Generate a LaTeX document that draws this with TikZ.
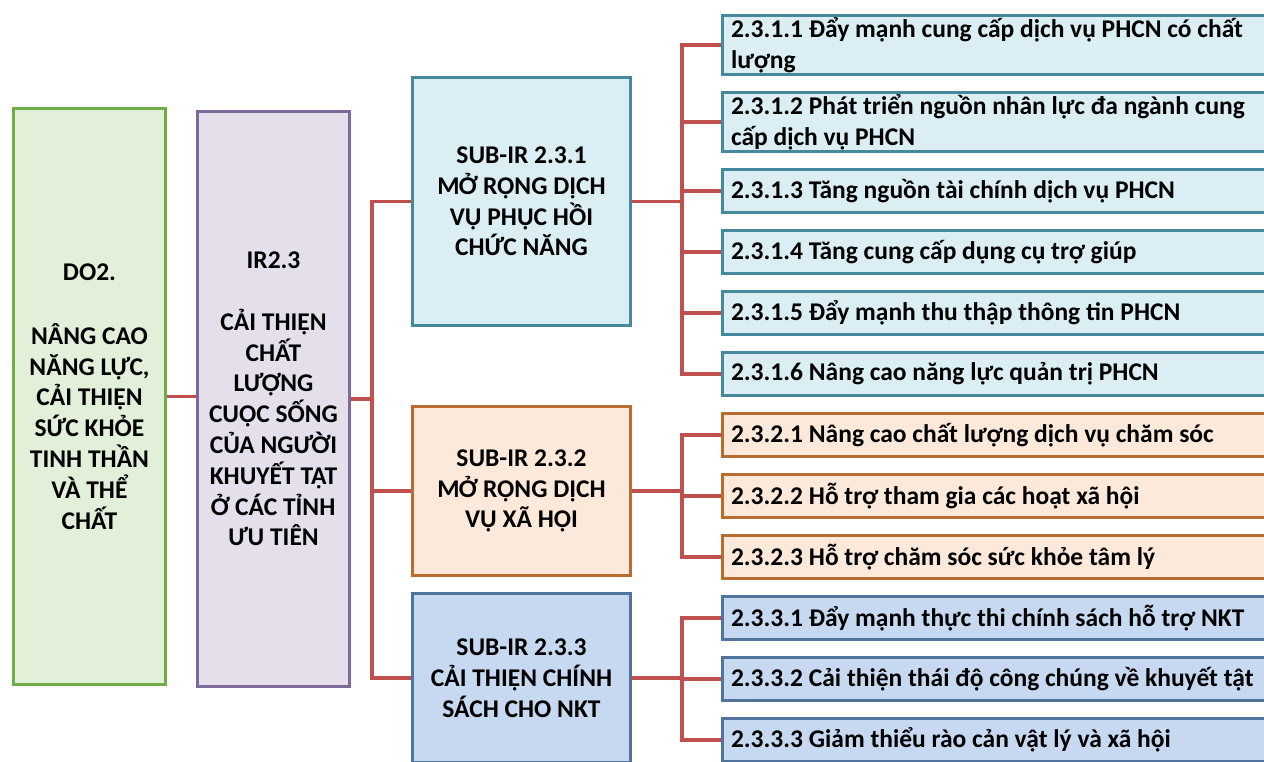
\documentclass[tikz,border=0pt]{standalone}
\usepackage{fontspec}
\setmainfont{Carlito}
\usepackage{tikz}
\usetikzlibrary{positioning}
\definecolor{xanhla}{HTML}{72AC48}
\definecolor{xanhlanen}{HTML}{E2EFD9}
\definecolor{tim}{HTML}{7D6A9C}
\definecolor{timnen}{HTML}{E5DFEC}
\definecolor{lam}{HTML}{46889C}
\definecolor{lamnen}{HTML}{DAEEF3}
\definecolor{cam}{HTML}{B86C30}
\definecolor{camnen}{HTML}{FDE9D9}
\definecolor{duong}{HTML}{50749E}
\definecolor{duongnen}{HTML}{C6D9F1}
\definecolor{do}{HTML}{C0504D}

\begin{document}
\begin{tikzpicture}[
  x=1pt, y=-1pt,
  node distance=15pt,
  khoi/.style={draw, line width=3pt, align=center, inner sep=0pt, font=\bfseries\fontsize{25.5}{30.8}\selectfont},
  muc/.style={khoi, align=flush left, text width=540pt, inner xsep=8.5pt, minimum height=43pt, font=\bfseries\fontsize{25.5}{31}\selectfont},
  muc1/.style={muc, draw=lam, fill=lamnen},
  muc2/.style={muc, draw=cam, fill=camnen},
  muc3/.style={muc, draw=duong, fill=duongnen},
  noi/.style={line width=3.5pt, do}
]
\useasboundingbox (0,0) rectangle (1264,761);

% cot trai
\node[khoi, draw=xanhla, fill=xanhlanen, minimum width=152pt, minimum height=576pt] (do2) at (89.5,396.5)
  {DO2.\\[33pt]NÂNG CAO\\NĂNG LỰC,\\CẢI THIỆN\\SỨC KHỎE\\TINH THẦN\\VÀ THỂ\\CHẤT};
\node[khoi, draw=tim, fill=timnen, minimum width=152pt, minimum height=575pt] (ir) at (273.5,399)
  {IR2.3\\[31pt]CẢI THIỆN\\CHẤT\\LƯỢNG\\CUỘC SỐNG\\CỦA NGƯỜI\\KHUYẾT TẬT\\Ở CÁC TỈNH\\ƯU TIÊN};

% sub-IR
\node[khoi, draw=lam, fill=lamnen, minimum width=218pt, minimum height=248pt] (s1) at (521.5,201.5)
  {SUB-IR 2.3.1\\MỞ RỘNG DỊCH\\VỤ PHỤC HỒI\\CHỨC NĂNG};
\node[khoi, draw=cam, fill=camnen, minimum width=218pt, minimum height=169pt] (s2) at (521.5,491)
  {SUB-IR 2.3.2\\MỞ RỘNG DỊCH\\VỤ XÃ HỘI};
\node[khoi, draw=duong, fill=duongnen, minimum width=218pt, minimum height=169pt] (s3) at (521.5,678)
  {SUB-IR 2.3.3\\CẢI THIỆN CHÍNH\\SÁCH CHO NKT};

% cot phai
\node[muc1, minimum height=59pt, anchor=west] (c11) at (721,45) {2.3.1.1 Đẩy mạnh cung cấp dịch vụ PHCN có chất\\lượng};
\node[muc1, minimum height=59pt, below=of c11] (c12) {2.3.1.2 Phát triển nguồn nhân lực đa ngành cung\\cấp dịch vụ PHCN};
\node[muc1, below=of c12] (c13) {2.3.1.3 Tăng nguồn tài chính dịch vụ PHCN};
\node[muc1, below=of c13] (c14) {2.3.1.4 Tăng cung cấp dụng cụ trợ giúp};
\node[muc1, below=of c14] (c15) {2.3.1.5 Đẩy mạnh thu thập thông tin PHCN};
\node[muc1, below=of c15] (c16) {2.3.1.6 Nâng cao năng lực quản trị PHCN};
\node[muc2, below=of c16] (c21) {2.3.2.1 Nâng cao chất lượng dịch vụ chăm sóc};
\node[muc2, below=of c21] (c22) {2.3.2.2 Hỗ trợ tham gia các hoạt xã hội};
\node[muc2, below=of c22] (c23) {2.3.2.3 Hỗ trợ chăm sóc sức khỏe tâm lý};
\node[muc3, below=of c23] (c31) {2.3.3.1 Đẩy mạnh thực thi chính sách hỗ trợ NKT};
\node[muc3, below=of c31] (c32) {2.3.3.2 Cải thiện thái độ công chúng về khuyết tật};
\node[muc3, below=of c32] (c33) {2.3.3.3 Giảm thiểu rào cản vật lý và xã hội};

% duong noi
\draw[noi] (do2.east) -- (do2.east -| ir.west);
\foreach \s in {1,2,3}
  \draw[noi] (ir.east) -- ++(21,0) |- (s\s.west);
\foreach \s/\k in {1/6,2/3,3/3}
  \foreach \j in {1,...,\k}
    \draw[noi] (s\s.east) -- ++(50,0) |- (c\s\j.west);
\end{tikzpicture}
\end{document}
